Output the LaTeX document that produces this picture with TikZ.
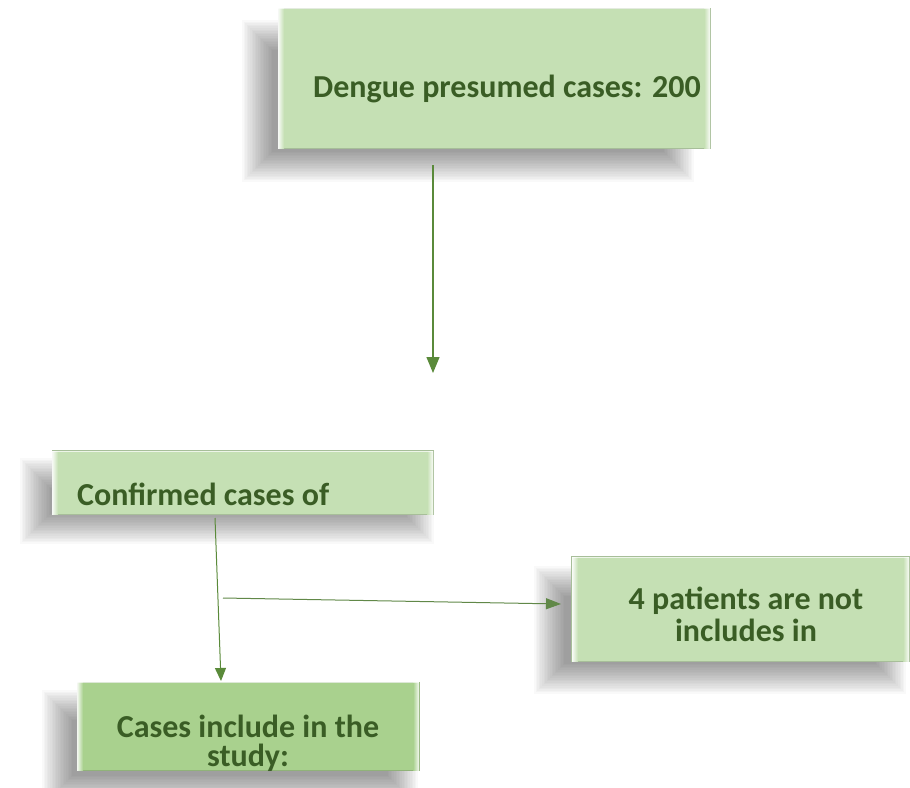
\documentclass[tikz,border=0pt]{standalone}
\usepackage{fontspec}
\setmainfont{Carlito}
\usetikzlibrary{arrows.meta}
\definecolor{boxfill}{HTML}{C5E0B4}
\definecolor{boxfilldark}{HTML}{A9D18E}
\definecolor{txtgreen}{HTML}{3A5D25}
\definecolor{arrgreen}{HTML}{5A8A3A}
\tikzset{
  flowbox/.style={draw=boxfill!85!black, line width=0.4pt, fill=boxfill, inner sep=0pt},
  flowtext/.style={text=txtgreen, font=\bfseries\fontsize{32}{36}\selectfont, inner sep=0pt, align=center},
  flowarrow/.style={draw=arrgreen, line width=1.3pt, -{Triangle[width=13pt,length=16pt]}},
}
\newcommand{\softshadow}[4]{%
  \foreach \k in {0,...,19}{%
    \fill[black, opacity=0.022] ({#1-14+\k*1.6},{#2-14+\k*1.6}) rectangle ({#3+14-\k*1.6},{#4+14-\k*1.6});
  }}
\newcommand{\bevel}[4]{%
  \shade[left color=white, right color=boxfill, opacity=0.9] (#1,#2) rectangle ({#1+6},#4);
  \shade[right color=white, left color=boxfill, opacity=0.9] ({#3-6},#2) rectangle (#3,#4);
  \draw[white, opacity=0.7, line width=1pt] (#1,{#2+0.8}) -- (#3,{#2+0.8});
}
\begin{document}
\begin{tikzpicture}[x=1pt,y=-1pt]
\useasboundingbox (0,0) rectangle (910,787);
% shadows
\softshadow{256}{34}{680}{168}
\softshadow{34}{472}{420}{530}
\softshadow{548}{580}{892}{680}
\softshadow{56}{704}{404}{792}
% boxes
\node[flowbox, minimum width=432pt, minimum height=140pt] (b1) at (494,78) {};
\bevel{278}{8}{710}{148}
\node[flowbox, minimum width=381pt, minimum height=64pt] (b2) at (242.5,482.5) {};
\bevel{52}{451}{433}{514}
\node[flowbox, minimum width=338pt, minimum height=105pt] (b3) at (740.5,609) {};
\bevel{572}{557}{909}{661}
\node[flowbox, fill=boxfilldark, draw=boxfilldark!85!black, minimum width=342pt, minimum height=88pt] (b4) at (248,726) {};
\shade[left color=white, right color=boxfilldark, opacity=0.9] (77,682) rectangle (83,770);
\shade[right color=white, left color=boxfilldark, opacity=0.9] (413,682) rectangle (419,770);
\draw[white, opacity=0.7, line width=1pt] (77,682.8) -- (419,682.8);
% texts
\node[flowtext, anchor=base] (t1) at (507,97) {Dengue presumed cases: 200};
\node[flowtext, anchor=base west] (t2) at (77,505) {Confirmed cases of};
\node[flowtext, anchor=base] (t3a) at (746,609) {4 patients are not};
\node[flowtext, anchor=base] (t3b) at (746,641) {includes in};
\node[flowtext, anchor=base] (t4a) at (248,737) {Cases include in the};
\node[flowtext, anchor=base] (t4b) at (248,766) {study:};
% connectors
\coordinate (a1s) at (433,165);
\coordinate (a1e) at (433,373);
\coordinate (a2s) at (215,518);
\coordinate (a2e) at (221,681);
\coordinate (a3s) at (223,598);
\coordinate (a3e) at (561,604);
\draw[flowarrow] (a1s) -- (a1e);
\draw[flowarrow, line width=1pt, -{Triangle[width=11pt,length=13pt]}] (a2s) -- (a2e);
\draw[flowarrow, draw=arrgreen!80!gray, line width=1pt, -{Triangle[width=11pt,length=15pt]}] (a3s) -- (a3e);
\end{tikzpicture}
\end{document}
